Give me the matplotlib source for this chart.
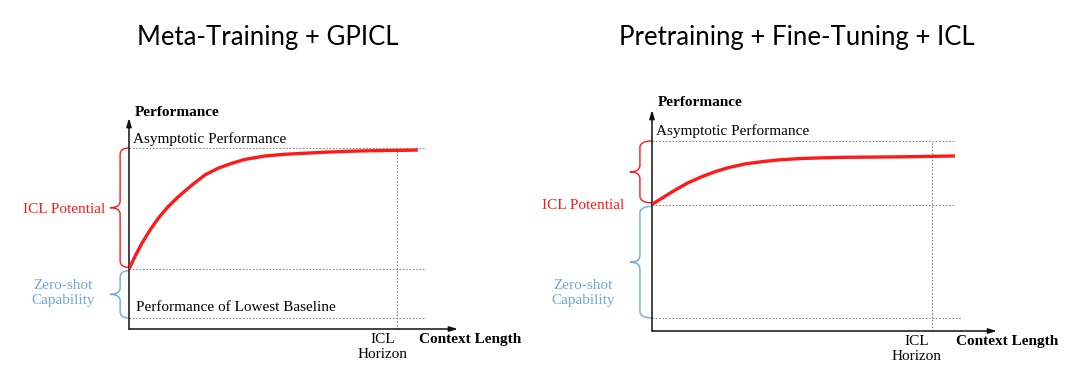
import matplotlib.pyplot as plt
from matplotlib.path import Path
import matplotlib.patches as mpatches

# ---- data (axes units 0..1) ----
titles = ['Meta-Training + GPICL', 'Pretraining + Fine-Tuning + ICL']

left_ctx = [0.0, 0.018, 0.039, 0.064, 0.089, 0.119, 0.150, 0.191, 0.231, 0.271,
            0.312, 0.353, 0.413, 0.474, 0.535, 0.611, 0.702, 0.793, 0.878]
left_perf = [0.284, 0.343, 0.406, 0.469, 0.525, 0.580, 0.627, 0.682, 0.730, 0.762,
             0.785, 0.804, 0.820, 0.828, 0.833, 0.839, 0.844, 0.846, 0.848]
left_levels = {'baseline': 0.052, 'zeroshot': 0.284, 'asymptote': 0.858}
left_horizon = 0.815

right_ctx = [0.0, 0.028, 0.067, 0.105, 0.144, 0.183, 0.221, 0.270, 0.318, 0.366,
             0.424, 0.482, 0.559, 0.719, 0.878]
right_perf = [0.573, 0.600, 0.638, 0.671, 0.698, 0.721, 0.739, 0.756, 0.766, 0.774,
              0.780, 0.783, 0.786, 0.788, 0.792]
right_levels = {'baseline': 0.059, 'zeroshot': 0.572, 'asymptote': 0.860}
right_horizon = 0.812

RED = '#ff1a1a'
BLUE = '#6fa8dc'
GREY = '#8a8a8a'
SERIF = 'Liberation Serif'

fig = plt.figure(figsize=(10.8, 3.88), dpi=100)


def brace(ax, y0, y1, x_v, x_tip, color):
    """square-ish curly brace on the left of the y axis"""
    r = min(0.03, (y1 - y0) / 6)
    mid = (y0 + y1) / 2
    verts = [(0.0, y1), (x_v, y1), (x_v, y1 - r),
             (x_v, mid + r), (x_v, mid), (x_tip, mid),
             (x_v, mid), (x_v, mid - r),
             (x_v, y0 + r), (x_v, y0), (0.0, y0)]
    codes = [Path.MOVETO, Path.CURVE3, Path.CURVE3,
             Path.LINETO, Path.CURVE3, Path.CURVE3,
             Path.CURVE3, Path.CURVE3,
             Path.LINETO, Path.CURVE3, Path.CURVE3]
    ax.add_patch(mpatches.PathPatch(Path(verts, codes), fill=False, edgecolor=color,
                                    lw=1.0, clip_on=False))


def draw_panel(rect, ctx, perf, lv, horizon, dot_end, low_end, cfg):
    ax = fig.add_axes(rect)
    ax.set_xlim(0, 1)
    ax.set_ylim(0, 1)
    ax.axis('off')

    # axes with arrows
    arrow = dict(arrowstyle='-|>,head_length=0.5,head_width=0.15', color='#111', lw=1.1,
                 shrinkA=0, shrinkB=0)
    ax.annotate('', xy=(1, 0), xytext=(0, 0), xycoords='axes fraction', arrowprops=arrow)
    ax.annotate('', xy=(0, 1), xytext=(0, 0), xycoords='axes fraction', arrowprops=arrow)

    # dotted guides
    dot = dict(ls=(0, (1.5, 1.5)), color=GREY, lw=0.8)
    ax.plot([0, dot_end], [lv['asymptote']] * 2, **dot)
    ax.plot([0, dot_end], [lv['zeroshot']] * 2, **dot)
    ax.plot([0, low_end], [lv['baseline']] * 2, **dot)
    ax.plot([horizon, horizon], [0, lv['asymptote']], **dot)

    # performance curve
    ax.plot(ctx, perf, color=RED, lw=2.4, solid_capstyle='butt',
            solid_joinstyle='round', zorder=5)

    # braces
    brace(ax, lv['zeroshot'] + 0.008, lv['asymptote'], cfg['x_v'], cfg['x_tip'], RED)
    brace(ax, lv['baseline'], lv['zeroshot'] - 0.008, cfg['x_v'], cfg['x_tip'], BLUE)

    fs = 11
    ax.text(0.018, cfg['perf_y'], 'Performance', fontsize=fs, fontweight='bold',
            family=SERIF, va='center', ha='left')
    ax.text(0.012, cfg['asym_y'], 'Asymptotic Performance', fontsize=fs,
            family=SERIF, va='center', ha='left')
    if cfg.get('low_label'):
        ax.text(0.021, lv['baseline'] + 0.05, 'Performance of Lowest Baseline', fontsize=fs,
                family=SERIF, va='center', ha='left')
    ax.text(horizon - 0.045, -0.02, 'ICL\nHorizon', fontsize=fs, family=SERIF,
            va='top', ha='center', linespacing=1.15)
    ax.text(0.882, -0.048, 'Context Length', fontsize=fs, fontweight='bold',
            family=SERIF, va='center', ha='left')
    ax.text(cfg['icl_x'], cfg['icl_y'], 'ICL Potential', fontsize=fs, color=RED,
            family=SERIF, va='center', ha=cfg['icl_ha'])
    ax.text(-0.2, cfg['zs_y'], 'Zero-shot\nCapability', fontsize=fs, color=BLUE,
            family=SERIF, va='center', ha='center', linespacing=1.15)
    return ax


draw_panel([129 / 1080, 59 / 388, 329 / 1080, 211 / 388], left_ctx, left_perf, left_levels,
           left_horizon, 0.903, 0.903,
           dict(x_v=-0.027, x_tip=-0.058, perf_y=1.024, asym_y=0.90, low_label=True,
                icl_x=-0.073, icl_y=0.564, icl_ha='right', zs_y=0.17))
draw_panel([652 / 1080, 57 / 388, 345 / 1080, 221 / 388], right_ctx, right_perf, right_levels,
           right_horizon, 0.878, 0.899,
           dict(x_v=-0.035, x_tip=-0.064, perf_y=1.032, asym_y=0.905, low_label=False,
                icl_x=-0.2, icl_y=0.566, icl_ha='center', zs_y=0.172))

fig.text(268 / 1080, 1 - 37 / 388, titles[0], fontsize=18.5, family='Lato',
         ha='center', va='center')
fig.text(797 / 1080, 1 - 37 / 388, titles[1], fontsize=18.5, family='Lato',
         ha='center', va='center')

fig.savefig('out.png', dpi=100)
